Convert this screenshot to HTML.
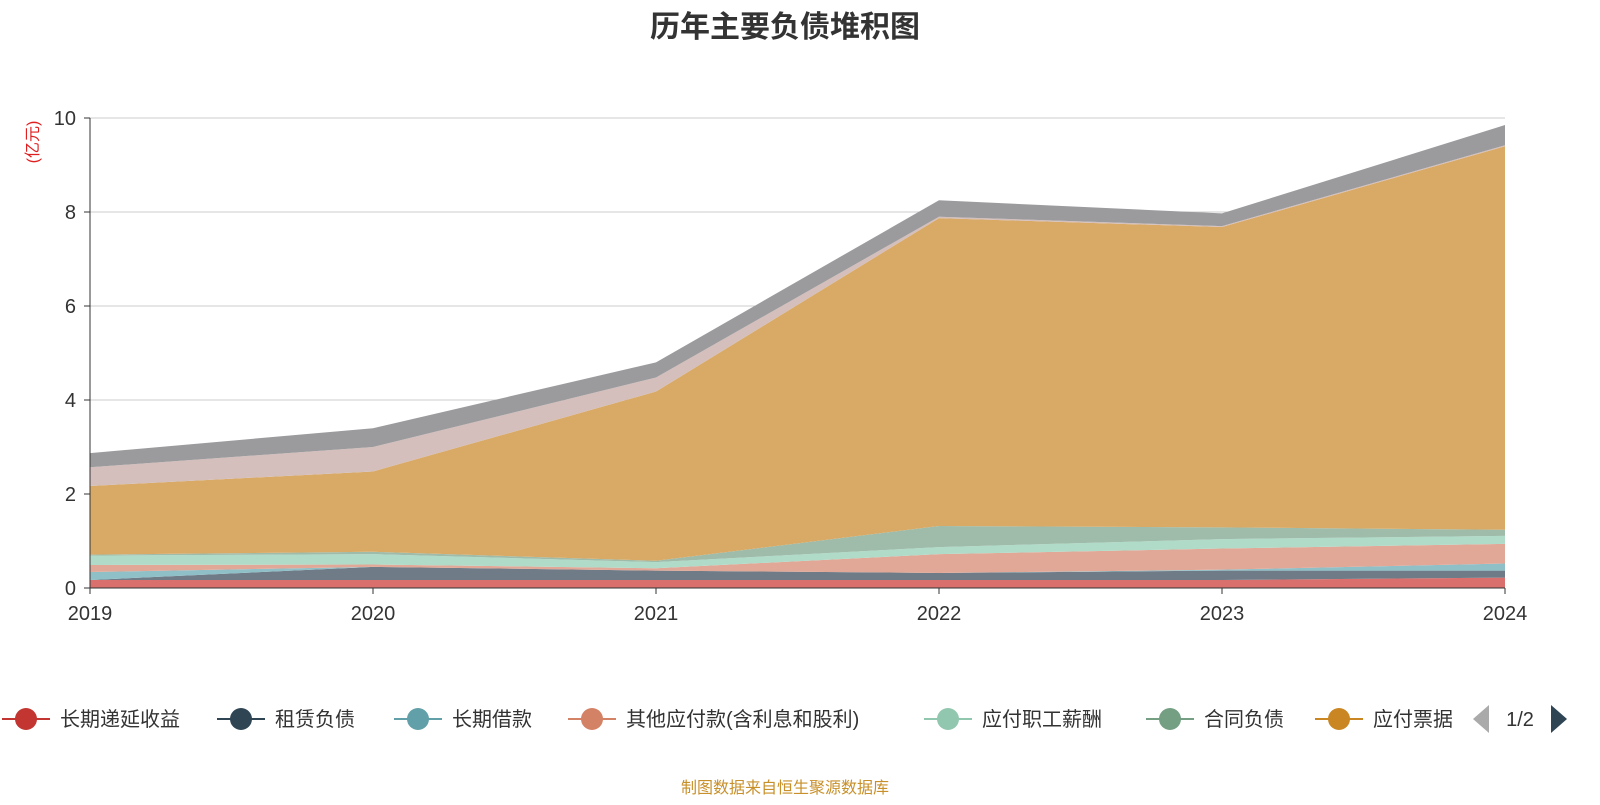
<!DOCTYPE html>
<html><head><meta charset="utf-8"><style>
body{margin:0;background:#fff;width:1600px;height:800px;overflow:hidden;font-family:"Liberation Sans","Noto Sans CJK SC",sans-serif;}
</style></head><body>
<svg width="1600" height="800">
<text x="785" y="37" text-anchor="middle" font-size="30" font-weight="bold" fill="#333">历年主要负债堆积图</text>
<text transform="translate(38,142) rotate(-90)" text-anchor="middle" font-size="16" fill="#e02020">(亿元)</text>
<g id="grid"></g><g id="areas"></g><g id="axes"></g>
<g id="legend"></g>
<text x="785" y="793" text-anchor="middle" font-size="16" fill="#c8902a">制图数据来自恒生聚源数据库</text>
</svg>
<script>
const years=["2019","2020","2021","2022","2023","2024"];
const seriesNames=["长期递延收益","租赁负债","长期借款","其他应付款(含利息和股利)","应付职工薪酬","合同负债","应付票据","其他","其他2"];
const sDeferred=[0.17,0.17,0.17,0.17,0.17,0.22];
const sLease=[0,0.28,0.2,0.15,0.2,0.15];
const sLoan=[0.17,0,0,0,0.02,0.15];
const sOtherPay=[0.15,0.05,0.05,0.4,0.45,0.42];
const sSalary=[0.2,0.22,0.13,0.15,0.2,0.17];
const sContract=[0.02,0.05,0.03,0.45,0.25,0.13];
const sNotes=[1.46,1.71,3.6,6.55,6.39,8.16];
const sBeige=[0.4,0.52,0.3,0.03,0.02,0.02];
const sGray=[0.3,0.4,0.32,0.35,0.27,0.43];
const yTicks=[0,2,4,6,8,10];
const colors=["#d9706e","#6f7c88","#8fbfc7","#e2a897","#b0dbc8","#9fbcaa","#d9aa66","#d4bfbc","#9b9b9e"];
const legendColors=["#c23531","#2f4554","#61a0a8","#d48265","#91c7ae","#749f83","#ca8622"];
const NS="http://www.w3.org/2000/svg";
const X0=90,X1=1505,Y0=588,Y1=118;
const xs=i=>X0+(X1-X0)*i/(years.length-1);
const ys=v=>Y0-(Y0-Y1)*v/10;
function mk(t,a,p){const e=document.createElementNS(NS,t);for(const k in a)e.setAttribute(k,a[k]);p.appendChild(e);return e;}
const grid=document.getElementById('grid'),axes=document.getElementById('axes'),areas=document.getElementById('areas');
yTicks.forEach(v=>{
 const l=mk('line',{x1:X0,x2:X1,y1:ys(v),y2:ys(v),stroke:v===0?'#333':'#ccc','stroke-width':1},grid);
 
 
 const t=mk('text',{x:X0-14,y:ys(v)+7,'text-anchor':'end','font-size':20,fill:'#333'},axes);t.textContent=v;
 
 
 const tk=mk('line',{x1:X0-6,x2:X0,y1:ys(v),y2:ys(v),stroke:'#333'},axes);
 
 
});
const all=[sDeferred,sLease,sLoan,sOtherPay,sSalary,sContract,sNotes,sBeige,sGray];
let base=years.map(()=>0);
all.forEach((s,k)=>{
 const top=base.map((b,i)=>b+s[i]);
 let d='M'+years.map((_,i)=>xs(i)+','+ys(top[i])).join('L');
 for(let i=years.length-1;i>=0;i--)d+='L'+xs(i)+','+ys(base[i]);
 const p=mk('path',{d:d+'Z',fill:colors[k]},areas);
 
 
 base=top;
});
mk('line',{x1:X0,x2:X0,y1:Y1,y2:Y0,stroke:'#333'},axes);
mk('line',{x1:X0,x2:X1,y1:Y0,y2:Y0,stroke:'#333'},axes);
years.forEach((y,i)=>{
 const t=mk('text',{x:xs(i),y:620,'text-anchor':'middle','font-size':20,fill:'#333'},axes);t.textContent=y;
 
 
 mk('line',{x1:xs(i),x2:xs(i),y1:Y0,y2:Y0+6,stroke:'#333'},axes);
});
const lg=document.getElementById('legend');
const lx=[26,241,418,592,948,1170,1339];
lx.forEach((cx,i)=>{
 const g=mk('g',{},lg);
 
 
 mk('line',{x1:cx-24,x2:cx+24,y1:719,y2:719,stroke:legendColors[i],'stroke-width':2},g);
 mk('circle',{cx:cx,cy:719,r:11,fill:legendColors[i]},g);
 const t=mk('text',{x:cx+34,y:726,'font-size':20,fill:'#333'},g);t.textContent=seriesNames[i];
});
const clip=mk('rect',{x:1452,y:700,width:20,height:40,fill:'#fff'},lg);
const pa=mk('path',{d:'M1489,705L1473,719L1489,733Z',fill:'#aaa'},lg);


const pt=mk('text',{x:1520,y:726,'text-anchor':'middle','font-size':20,fill:'#333'},lg);pt.textContent='1/2';


const na=mk('path',{d:'M1551,705L1567,719L1551,733Z',fill:'#2f4554'},lg);


</script>
</body></html>
